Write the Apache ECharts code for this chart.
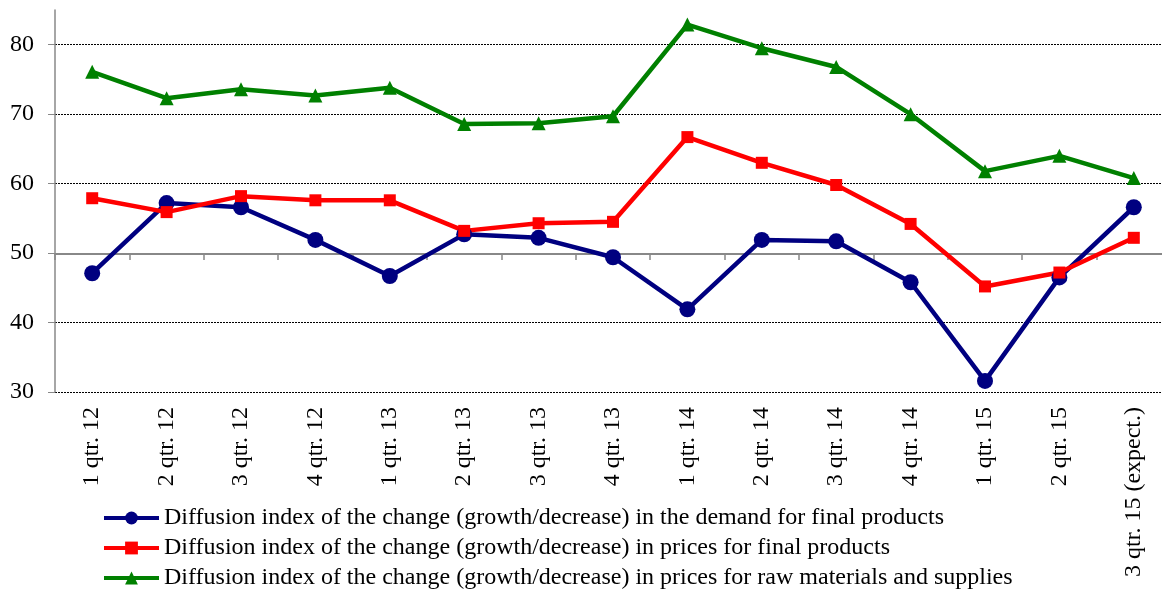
<!DOCTYPE html>
<html>
<head>
<meta charset="utf-8">
<script src="https://cdn.jsdelivr.net/npm/echarts@6/dist/echarts.min.js"></script>
<style>
  html, body { margin: 0; padding: 0; background: #fff; }
  #chart { width: 1162px; height: 592px; }
</style>
</head>
<body>
<div id="chart"></div>
<script>
const quarters = ['1 qtr. 12', '2 qtr. 12', '3 qtr. 12', '4 qtr. 12', '1 qtr. 13', '2 qtr. 13', '3 qtr. 13', '4 qtr. 13',
  '1 qtr. 14', '2 qtr. 14', '3 qtr. 14', '4 qtr. 14', '1 qtr. 15', '2 qtr. 15', '3 qtr. 15 (expect.)']
const demandFinal = [47.1, 57.2, 56.6, 51.9, 46.7, 52.7, 52.2, 49.4, 41.9, 51.9, 51.7, 45.8, 31.6, 46.5, 56.6]
const pricesFinal = [57.9, 55.9, 58.2, 57.6, 57.6, 53.2, 54.3, 54.5, 66.7, 63.0, 59.8, 54.2, 45.2, 47.2, 52.2]
const pricesRaw = [76.1, 72.3, 73.6, 72.7, 73.8, 68.6, 68.7, 69.7, 82.9, 79.5, 76.8, 70.0, 61.8, 64.0, 60.8]
const seriesNames = [
  'Diffusion index of the change (growth/decrease) in the demand for final products',
  'Diffusion index of the change (growth/decrease) in prices for final products',
  'Diffusion index of the change (growth/decrease) in prices for raw materials and supplies'
]

const font = 'Liberation Serif, Times New Roman, serif'
const chart = echarts.init(document.getElementById('chart'))

// line helper
function makeLine (name, data, color, symbol, size) {
  return {
    name,
    type: 'line',
    data,
    xAxisIndex: 0,
    symbol,
    symbolSize: size,
    lineStyle: { color, width: 4.5 },
    itemStyle: { color }
  }
}

chart.setOption({
  animation: false,
  textStyle: { fontFamily: font },
  grid: { left: 55, right: -9, top: 10, bottom: 200, outerBoundsMode: 'none' },
  legend: {
    orient: 'vertical',
    left: 97,
    top: 501,
    height: 100,
    itemWidth: 55,
    itemHeight: 16,
    itemGap: 6,
    lineStyle: { width: 4 },
    textStyle: { fontFamily: font, fontSize: 24, color: '#000' },
    data: seriesNames
  },
  xAxis: [
    {
      type: 'category',
      data: quarters,
      position: 'bottom',
      axisLine: { show: false },
      axisTick: { show: false },
      axisLabel: { rotate: 90, margin: 15, interval: 0, fontFamily: font, fontSize: 24, color: '#000' }
    },
    {
      // the horizontal axis line crossing at 50
      type: 'category',
      data: quarters,
      position: 'bottom',
      offset: -138,
      axisLine: { show: true, lineStyle: { color: '#888', width: 2 } },
      axisTick: { show: true, interval: 0, length: 6, lineStyle: { color: '#888', width: 1.5 } },
      axisLabel: { show: false }
    }
  ],
  yAxis: {
    type: 'value',
    min: 30,
    max: 85,
    interval: 10,
    axisLine: { show: true, lineStyle: { color: '#888', width: 1.5 } },
    axisTick: { show: true, length: 7, lineStyle: { color: '#888' } },
    axisLabel: {
      margin: 21,
      fontFamily: font,
      fontSize: 24,
      color: '#000',
      showMaxLabel: false,
      formatter: v => (v % 10 === 0 ? String(v) : '')
    },
    splitLine: { show: true, showMaxLine: false, lineStyle: { color: '#000', type: [2, 1], width: 1 } }
  },
  series: [
    makeLine(seriesNames[0], demandFinal, '#000080', 'circle', 16),
    makeLine(seriesNames[1], pricesFinal, '#ff0000', 'rect', 12),
    makeLine(seriesNames[2], pricesRaw, '#008000', 'triangle', 14)
  ]
})
</script>
</body>
</html>
